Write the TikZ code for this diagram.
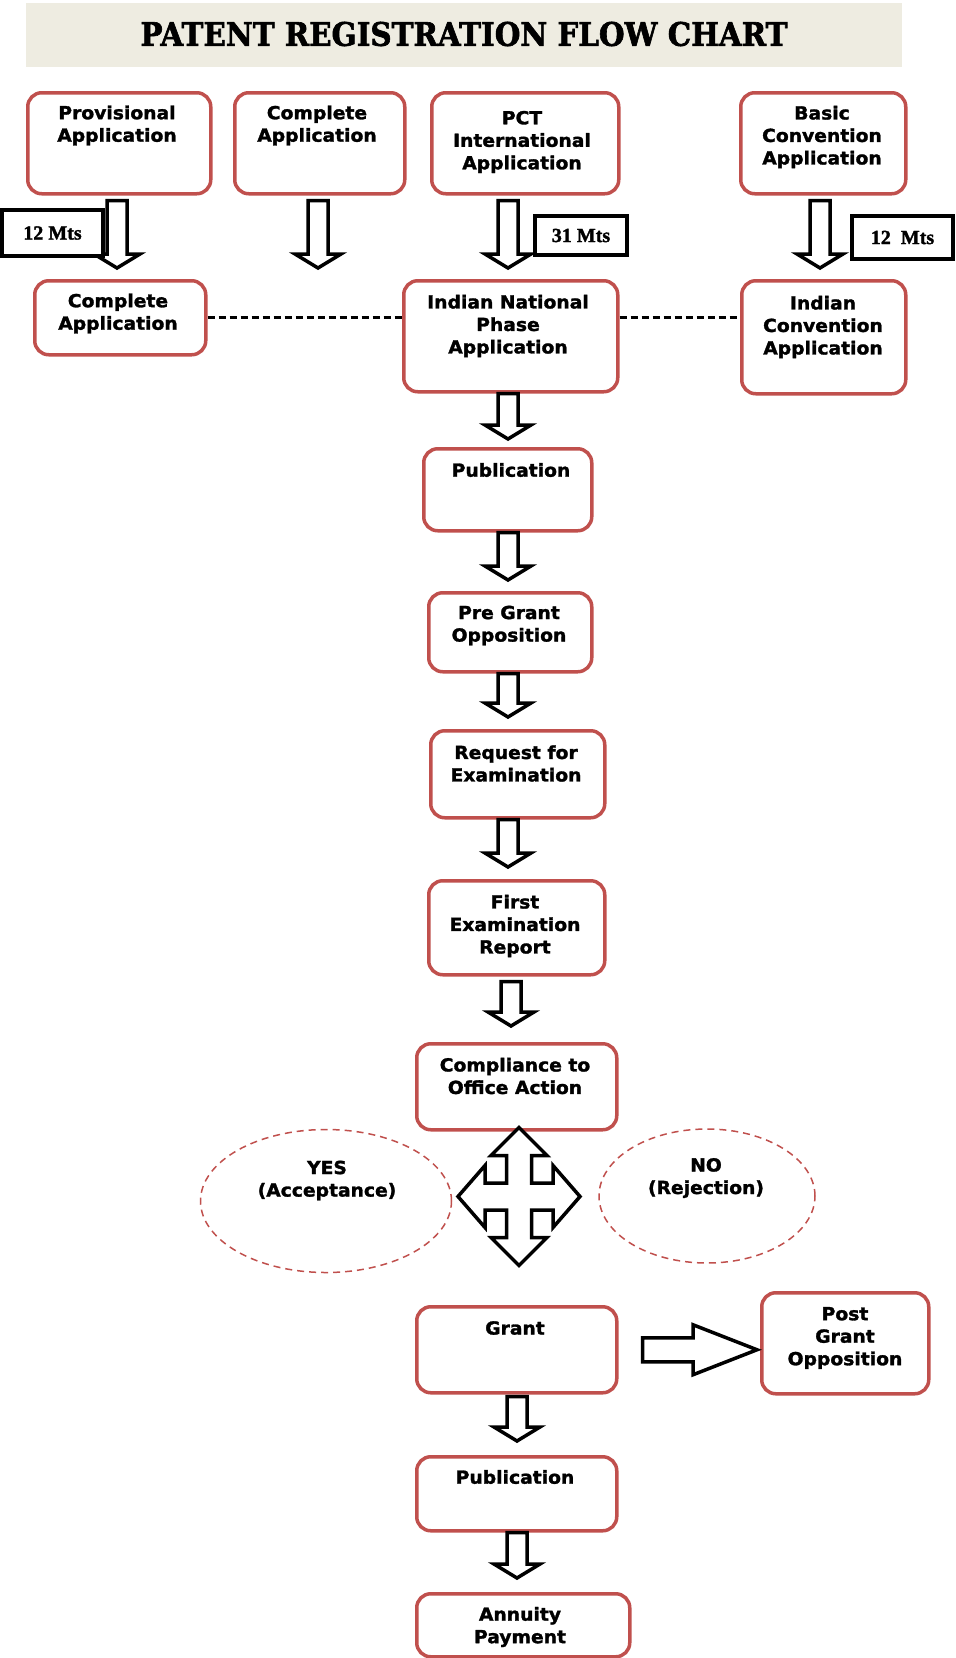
\documentclass[tikz,border=0pt]{standalone}
\usepackage{fontspec}
\usepackage{graphicx}
\setmainfont{DejaVu Sans}
\newfontfamily\heavy{DejaVu Sans Bold}[FakeBold=1.6, FakeStretch=1.04]
\newfontfamily\titlefont{DejaVu Serif Bold}[FakeBold=2]
\newfontfamily\mtsfont{Liberation Serif Bold}[FakeBold=1.6]
\usetikzlibrary{calc,shapes.geometric}
\definecolor{boxred}{RGB}{192,80,77}
\definecolor{band}{RGB}{238,236,225}
\tikzset{
  box/.style={draw=boxred, line width=3.5pt, rounded corners=14pt, fill=white, inner sep=0pt, anchor=north west},
  lbl/.style={font=\heavy\fontsize{18}{22.5}\selectfont, align=center, inner sep=0pt},
  blk/.style={draw=black, line width=3.5pt, fill=white, line join=miter},
  mts/.style={draw=black, line width=3.5pt, fill=white, inner sep=0pt, font=\mtsfont\fontsize{20}{22}\selectfont},
  oval/.style={draw=boxred, ellipse, dash pattern=on 7pt off 5pt, line width=1.5pt, inner sep=0pt},
  dashline/.style={draw=black, line width=3pt, dash pattern=on 7pt off 4pt},
}
\newcommand\bx[5]{\node[box, minimum width=#4pt, minimum height=#5pt] (#1) at (#2,#3) {};}
\newcommand\darrow[3]{\draw[blk] let \p1=#2, \p2=#3 in
  ({#1-10pt},\y1) -- ({#1-10pt},{\y2+14pt}) -- ({#1-23pt},{\y2+14pt}) -- (#1,\y2) --
  ({#1+23pt},{\y2+14pt}) -- ({#1+10pt},{\y2+14pt}) -- ({#1+10pt},\y1) -- cycle;}
\begin{document}
\begin{tikzpicture}[x=1pt,y=-1pt]
\useasboundingbox (0,0) rectangle (956,1658);
% title
\fill[band] (26,3) rectangle (902,67);
\node[inner sep=0pt] (title) at (464,34) {\resizebox{647pt}{24pt}{\titlefont PATENT REGISTRATION FLOW CHART}};
% boxes
\bx{prov}{26}{91}{183}{101}
\bx{compa}{233}{91}{170}{101}
\bx{pct}{430}{91}{187}{101}
\bx{basic}{739}{91}{165}{101}
\bx{compb}{33}{279}{171}{74}
\bx{inp}{402}{279}{214}{111}
\bx{ic}{740}{279}{164}{113}
\bx{pub}{422}{447}{168}{82}
\bx{pre}{427}{591}{163}{79}
\bx{req}{429}{729}{174}{87}
\bx{fer}{427}{879}{176}{94}
\bx{comp}{415}{1042}{200}{86}
\bx{grant}{415}{1305}{200}{86}
\bx{post}{760}{1291}{167}{101}
\bx{pubb}{415}{1455}{200}{74}
\bx{ann}{415}{1592}{213}{63}
% labels
\node[lbl] (prov-t) at (117,125.5) {Provisional\\Application};
\node[lbl] (compa-t) at (317,125.5) {Complete\\Application};
\node[lbl] (pct-t) at (522,142) {PCT\\International\\Application};
\node[lbl] (basic-t) at (822,137) {Basic\\Convention\\Application};
\node[lbl] (compb-t) at (118,313.5) {Complete\\Application};
\node[lbl] (inp-t) at (508,326) {Indian National\\Phase\\Application};
\node[lbl] (ic-t) at (823,327) {Indian\\Convention\\Application};
\node[lbl] (pub-t) at (511,470) {Publication};
\node[lbl] (pre-t) at (509,625.5) {Pre Grant\\Opposition};
\node[lbl] (req-t) at (516,763.5) {Request for\\Examination};
\node[lbl] (fer-t) at (515,926) {First\\Examination\\Report};
\node[lbl] (comp-t) at (515,1076) {Compliance to\\Office Action};
\node[lbl] (grant-t) at (515,1328) {Grant};
\node[lbl] (post-t) at (845,1338) {Post\\Grant\\Opposition};
\node[lbl] (pubb-t) at (515,1477) {Publication};
\node[lbl] (ann-t) at (520,1627) {Annuity\\Payment};
% ellipses
\node[oval, minimum width=251pt, minimum height=143pt] (yes) at (326,1201) {};
\node[oval, minimum width=216pt, minimum height=134pt] (no) at (707,1196) {};
\node[lbl] (yes-t) at (327,1180.5) {YES\\(Acceptance)};
\node[lbl] (no-t) at (706,1178) {NO\\(Rejection)};
% dashed links
\draw[dashline] (compb.east) -- (compb.east -| inp.west);
\draw[dashline] (inp.east |- compb.east) -- (ic.west |- compb.east);
% block arrows
\coordinate (compa-end) at (318,268);
\darrow{117pt}{($(prov.south)+(0,5)$)}{($(compb.north)+(0,-11)$)}
\darrow{318pt}{($(compa.south)+(0,5)$)}{(compa-end)}
\darrow{508pt}{($(pct.south)+(0,5)$)}{($(inp.north)+(0,-11)$)}
\darrow{820pt}{($(basic.south)+(0,5)$)}{($(ic.north)+(0,-11)$)}
\darrow{508pt}{(inp.south)}{($(pub.north)+(0,-8)$)}
\darrow{508pt}{(pub.south)}{($(pre.north)+(0,-11)$)}
\darrow{508pt}{(pre.south)}{($(req.north)+(0,-12)$)}
\darrow{508pt}{(req.south)}{($(fer.north)+(0,-12)$)}
\darrow{511pt}{($(fer.south)+(0,5)$)}{($(comp.north)+(0,-16)$)}
\darrow{517pt}{($(grant.south)+(0,2)$)}{($(pubb.north)+(0,-14)$)}
\darrow{517pt}{(pubb.south)}{($(ann.north)+(0,-14)$)}
% right arrow grant -> post
\draw[blk] let \p1=($(grant.east)+(24,0)$), \p2=($(post.west)+(-3,0)$) in
  (\x1,{\y1+12pt}) -- ({\x2-64pt},{\y1+12pt}) -- ({\x2-64pt},{\y1+25pt}) -- (\x2,\y1) --
  ({\x2-64pt},{\y1-25pt}) -- ({\x2-64pt},{\y1-12pt}) -- (\x1,{\y1-12pt}) -- cycle;
% four-way arrow
\begin{scope}[shift={(519,1196.5)}]
\draw[blk] (0,-69) -- (28,-41) -- (12.5,-41) -- (12.5,-13.5) -- (34,-13.5) -- (34,-31) -- (61,0) --
  (34,31) -- (34,13.5) -- (12.5,13.5) -- (12.5,41) -- (28,41) -- (0,69) -- (-28,41) -- (-12.5,41) --
  (-12.5,13.5) -- (-34,13.5) -- (-34,31) -- (-61,0) -- (-34,-31) -- (-34,-13.5) -- (-12.5,-13.5) --
  (-12.5,-41) -- (-28,-41) -- cycle;
\end{scope}
% month boxes
\node[mts, minimum width=101pt, minimum height=46pt] (m12a) at (52.5,233) {12 Mts};
\node[mts, minimum width=92pt, minimum height=39pt] (m31) at (581,235.5) {31 Mts};
\node[mts, minimum width=101pt, minimum height=43pt] (m12b) at (902.5,237.5) {12\ \ Mts};
\end{tikzpicture}
\end{document}
